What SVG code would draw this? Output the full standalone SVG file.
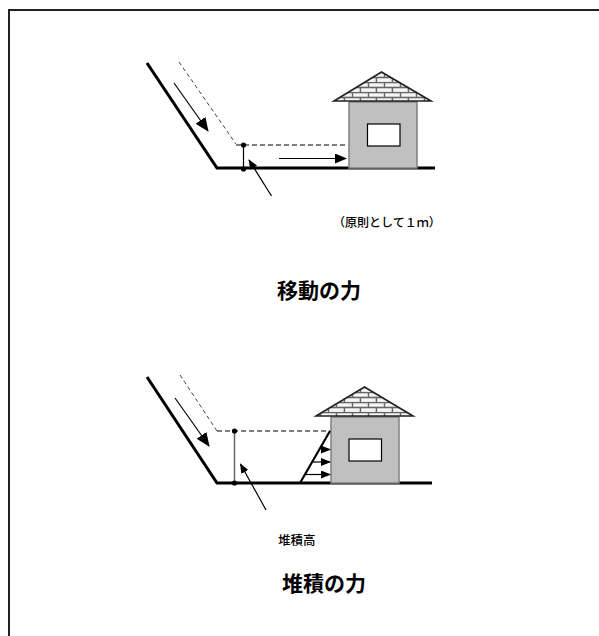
<svg xmlns="http://www.w3.org/2000/svg" width="599" height="636" viewBox="0 0 599 636">
  <style>
    .ground { fill: none; stroke: #000; stroke-width: 3; stroke-linejoin: miter; }
    .dash { fill: none; stroke: #444; stroke-width: 1; stroke-dasharray: 4 3; }
    .dash2 { fill: none; stroke: #555; stroke-width: 1.5; stroke-dasharray: 5 3; }
    .thin { fill: none; stroke: #000; stroke-width: 1.2; }
    .wall { fill: #c0c0c0; stroke: #808080; stroke-width: 1.5; }
    .win { fill: #fff; stroke: #000; stroke-width: 1.2; }
    .roof { fill: url(#brick); stroke: #222; stroke-width: 1.6; stroke-linejoin: miter; }
    .dot { fill: #000; }
    .lbl { font-family: "Noto Sans CJK JP", "Noto Sans", sans-serif; fill: #000; }
    .title { font-weight: bold; }
  </style>
  <defs>
    <pattern id="brick" patternUnits="userSpaceOnUse" width="16" height="10" x="0" y="2">
      <rect width="16" height="10" fill="#d8d8d8"/>
      <rect x="1.2" y="1.2" width="13.6" height="3.4" fill="#f6f6f6"/>
      <rect x="-6.8" y="6.2" width="13.6" height="3.4" fill="#f6f6f6"/>
      <rect x="9.2" y="6.2" width="13.6" height="3.4" fill="#f6f6f6"/>
      <path d="M0 0.5H16M0 5.5H16M0.5 0.5V5.5M8.5 5.5V10" stroke="#666" stroke-width="1.3" fill="none"/>
    </pattern>
    <marker id="bigHead" markerWidth="14" markerHeight="12" refX="13" refY="6" orient="auto" markerUnits="userSpaceOnUse">
      <path d="M0 0L14 6L0 12Z" fill="#000"/>
    </marker>
    <marker id="midHead" markerWidth="12" markerHeight="10" refX="11" refY="5" orient="auto" markerUnits="userSpaceOnUse">
      <path d="M0 0L12 5L0 10Z" fill="#000"/>
    </marker>
    <marker id="smallHead" markerWidth="10" markerHeight="8" refX="9" refY="4" orient="auto" markerUnits="userSpaceOnUse">
      <path d="M0 0L10 4L0 8Z" fill="#000"/>
    </marker>
  </defs>

  <!-- frame -->
  <rect x="9" y="10" width="620" height="660" fill="none" stroke="#222" stroke-width="2"/>

  <!-- upper scene: moving force -->
  <g id="slope-top">
    <polyline class="ground" points="147,63 217,168 435,168"/>
    <polyline class="dash" points="179,62 236,144"/>
    <polyline class="dash2" points="236,145 347,145"/>
  </g>
  <g id="house-top">
    <rect class="wall" x="349" y="102" width="68" height="66"/>
    <rect class="win" x="367.5" y="124" width="32.5" height="22"/>
    <polygon class="roof" points="381.5,72 334,101 431,101"/>
  </g>
  <g id="connectors-top">
    <line class="thin" x1="174" y1="83" x2="208" y2="131" marker-end="url(#bigHead)"/>
    <line class="thin" x1="279" y1="158.5" x2="346" y2="158.5" marker-end="url(#midHead)"/>
    <line class="thin" x1="243.5" y1="145" x2="243.5" y2="169" stroke-width="1.8"/>
    <circle class="dot" cx="243.5" cy="145" r="2.6"/>
    <circle class="dot" cx="243.5" cy="169" r="2.6"/>
    <line class="thin" x1="271.5" y1="196" x2="249" y2="160" marker-end="url(#smallHead)"/>
  </g>
  <g id="labels-top">
    <text class="lbl" x="333" y="227" font-size="12" font-weight="500">（原則として１ｍ）</text>
    <text class="lbl title" x="277" y="298" font-size="21">移動の力</text>
  </g>

  <!-- lower scene: deposit force -->
  <g id="slope-bottom">
    <polyline class="ground" points="147,377 217,483 432,483"/>
    <polyline class="dash" points="180,375 217,431"/>
    <polyline class="dash2" points="217,431 330,431"/>
  </g>
  <g id="house-bottom">
    <rect class="wall" x="331" y="417" width="68" height="66"/>
    <rect class="win" x="349" y="439" width="32.5" height="22"/>
    <polygon class="roof" points="364.5,387 316,416 413,416"/>
  </g>
  <g id="connectors-bottom">
    <line class="thin" x1="175" y1="398" x2="209" y2="446" marker-end="url(#bigHead)"/>
    <line x1="234.5" y1="431" x2="234.5" y2="483" stroke="#666" stroke-width="1.5"/>
    <circle class="dot" cx="234.5" cy="431" r="2.6"/>
    <circle class="dot" cx="234.5" cy="483" r="2.6"/>
    <line class="thin" x1="266" y1="510" x2="240.5" y2="464" marker-end="url(#smallHead)"/>
    <line x1="300" y1="483" x2="330" y2="431" stroke="#000" stroke-width="2.2"/>
    <line class="thin" x1="321" y1="449.5" x2="330" y2="449.5" marker-end="url(#smallHead)"/>
    <line class="thin" x1="312" y1="462" x2="330" y2="462" marker-end="url(#smallHead)"/>
    <line class="thin" x1="306" y1="474.5" x2="330" y2="474.5" marker-end="url(#smallHead)"/>
  </g>
  <g id="labels-bottom">
    <text class="lbl" x="278" y="545" font-size="12.5" font-weight="500">堆積高</text>
    <text class="lbl title" x="282" y="591" font-size="21">堆積の力</text>
  </g>
</svg>
